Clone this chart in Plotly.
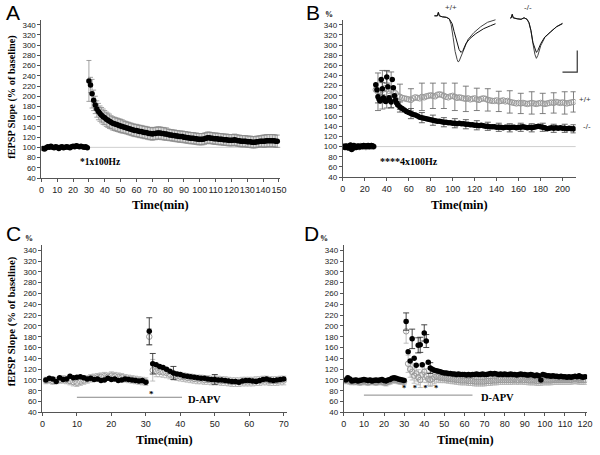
import plotly.graph_objects as go

W, H = 600, 455
def PX(x): return x / W
def PY(y): return 1 - y / H

# ---------------- DATA ----------------
BASELINE = 100
# Panel A (single group, 1x100Hz)
a_base_t = list(range(1, 30))
a_base_v = [98, 97, 99, 101, 100, 102, 100, 99, 101, 100, 98, 100, 101, 99, 100,
            101, 100, 99, 101, 102, 101, 103, 102, 101, 102, 101, 100, 101, 99]
a_post_t = list(range(30, 150))
a_post_v = [230, 222, 205, 192, 183, 175, 170, 166, 163, 160,
            158, 155, 153, 151, 149, 147, 146, 145, 144, 143,
            142, 141, 140, 139, 138, 137, 136, 135, 134, 133,
            133, 132, 131, 131, 130, 129, 129, 128, 127, 127,
            126, 127, 127, 128, 128, 128, 127, 127, 126, 126,
            125, 124, 124, 123, 123, 122, 122, 121, 121, 121,
            120, 120, 119, 119, 118, 118, 118, 117, 117, 116,
            116, 116, 116, 117, 118, 119, 119, 118, 118, 117,
            117, 117, 116, 116, 116, 115, 115, 115, 114, 114,
            114, 114, 115, 114, 113, 113, 112, 112, 112, 112,
            111, 111, 111, 110, 110, 110, 111, 111, 112, 112,
            112, 112, 113, 113, 113, 113, 113, 113, 112, 112]
a_post_e = [40, 15, 28, 20, 17, 16, 16, 15, 15, 15,
            14, 14, 14, 14, 13, 13, 13, 13, 13, 13,
            13, 13, 12, 12, 12, 12, 12, 12, 12, 12,
            12, 12, 12, 12, 12, 12, 12, 12, 12, 12,
            12, 12, 12, 12, 12, 12, 12, 12, 12, 12,
            11, 11, 11, 11, 11, 11, 11, 11, 11, 11,
            11, 11, 11, 11, 11, 11, 11, 11, 11, 11,
            11, 11, 11, 11, 11, 11, 11, 11, 11, 11,
            11, 11, 11, 11, 11, 11, 11, 11, 11, 11,
            11, 11, 11, 11, 11, 11, 11, 11, 11, 11,
            11, 11, 11, 11, 11, 11, 11, 11, 11, 11,
            12, 12, 12, 12, 12, 12, 12, 12, 12, 12]

# Panel B (4x100Hz): -/- filled, +/+ open
b_base_t = list(range(1, 29))
b_ko_base = [100, 98, 101, 99, 97, 101, 103, 94, 96, 102, 99, 98, 100, 101,
             99, 100, 101, 100, 102, 101, 100, 101, 102, 100, 101, 102, 101, 100]
b_wt_base = [101, 99, 100, 100, 98, 100, 101, 99, 100, 100, 101, 99, 100, 100,
             99, 101, 100, 100, 101, 100, 99, 100, 101, 100, 100, 101, 100, 100]
b_ko_t = list(range(30, 50)) + list(range(50, 211, 2))
b_ko_v = [222, 212, 198, 193, 190, 232, 214, 196, 192, 189,
          237, 218, 196, 191, 188, 232, 216, 200, 192, 186,
          182, 178, 175, 172, 169, 167, 165, 163, 162, 160,
          158, 157, 156, 155, 154, 153, 152, 151, 150, 150,
          149, 148, 148, 147, 147, 146, 146, 145, 146, 145,
          145, 144, 144, 143, 143, 142, 142, 141, 142, 141,
          140, 140, 139, 139, 139, 138, 138, 138, 137, 138,
          138, 137, 138, 138, 137, 138, 138, 139, 138, 137,
          138, 137, 138, 139, 140, 139, 138, 137, 135, 136,
          137, 136, 137, 136, 137, 136, 136, 135, 136, 135,
          135]
b_wt_t = list(range(30, 211, 2))
b_wt_v = [212, 208, 210, 212, 215, 213, 210, 212, 208, 205,
          200, 198, 196, 195, 194, 193, 192, 195, 197, 196,
          195, 198, 197, 199, 200, 201, 200, 199, 202, 203,
          202, 200, 198, 197, 199, 200, 198, 196, 197, 196,
          195, 194, 195, 193, 194, 195, 193, 192, 194, 195,
          194, 192, 191, 190, 190, 191, 189, 190, 191, 189,
          190, 188, 187, 186, 185, 186, 185, 186, 185, 184,
          185, 186, 185, 184, 185, 186, 185, 184, 185, 186,
          187, 186, 188, 187, 186, 187, 186, 185, 186, 187,
          188]
b_err_t = [32, 36, 40, 44, 52, 62, 72, 82, 92, 102, 112, 122, 132, 142,
           152, 162, 172, 182, 192, 202, 210]
b_wt_err = [37, 38, 37, 35, 25, 22, 27, 25, 25, 27, 25, 22, 22, 20,
            22, 20, 22, 20, 20, 22, 20]
b_ko_err = [12, 12, 12, 12, 10, 10, 10, 10, 9, 9, 9, 9, 8, 8,
            8, 8, 8, 8, 8, 8, 8]

# Panel C (D-APV, 1x100Hz)
c_t = list(range(1, 71))
c_ko_v = [100, 103, 102, 97, 104, 101, 102, 107, 104, 105,
          106, 104, 102, 103, 101, 102, 99, 100, 103, 101,
          102, 99, 100, 102, 101, 100, 99, 98, 99, 96,
          190, 130, 128, 125, 123, 120, 116, 113, 111, 110,
          108, 107, 106, 105, 104, 103, 103, 102, 101, 101,
          100, 100, 99, 98, 97, 97, 96, 98, 99, 99,
          98, 97, 99, 101, 102, 100, 99, 100, 101, 102]
c_wt_v = [99, 100, 98, 99, 100, 101, 100, 98, 96, 95,
          97, 99, 101, 103, 104, 105, 106, 107, 106, 108,
          107, 106, 105, 103, 102, 101, 100, 99, 98, 97,
          180, 118, 116, 115, 114, 113, 110, 108, 107, 106,
          105, 104, 103, 102, 101, 101, 100, 100, 99, 99,
          99, 98, 98, 97, 96, 96, 96, 97, 97, 97,
          97, 98, 98, 99, 99, 98, 98, 98, 99, 99]
c_wt_e = [6, 6, 6, 6, 6, 7, 7, 7, 7, 7,
          7, 7, 7, 7, 7, 7, 7, 7, 7, 7,
          7, 7, 7, 7, 7, 7, 7, 7, 7, 7,
          15, 20, 10, 9, 9, 9, 8, 8, 8, 8,
          8, 8, 8, 8, 8, 8, 8, 8, 8, 8,
          8, 8, 8, 8, 8, 8, 8, 8, 8, 8,
          8, 8, 8, 8, 8, 8, 8, 8, 8, 8]
c_ko_err_t = [31, 32, 38, 50]
c_ko_err = [25, 19, 12, 9]
c_apv = [10, 40.5]
c_apv_level = 68

# Panel D (D-APV, 4x100Hz)
d_t = list(range(1, 121))
d_ko_v = [100, 104, 102, 98, 99, 100, 98, 99, 100, 101,
          100, 99, 100, 98, 99, 100, 99, 100, 101, 99,
          98, 100, 101, 103, 104, 103, 102, 101, 100, 99,
          208, 152, 135, 176, 140, 127, 164, 165, 128, 187,
          172, 133, 122, 120, 118, 117, 116, 115, 114, 113,
          113, 112, 112, 111, 111, 110, 111, 110, 110, 110,
          109, 110, 109, 110, 110, 111, 110, 110, 111, 110,
          110, 111, 112, 111, 112, 111, 110, 111, 110, 111,
          110, 110, 111, 110, 110, 109, 110, 111, 110, 110,
          109, 109, 110, 109, 108, 109, 108, 100, 110, 109,
          108, 108, 107, 108, 107, 107, 106, 107, 106, 106,
          105, 106, 105, 106, 107, 106, 108, 106, 105, 106]
d_wt_v = [99, 101, 98, 97, 98, 97, 98, 96, 97, 98,
          97, 96, 97, 98, 97, 96, 97, 98, 97, 96,
          95, 97, 98, 100, 101, 100, 99, 98, 98, 97,
          190, 130, 120, 115, 108, 112, 105, 100, 110, 115,
          108, 102, 100, 102, 105, 106, 105, 104, 104, 103,
          103, 102, 102, 101, 101, 100, 100, 99, 99, 99,
          99, 98, 98, 98, 97, 97, 97, 97, 97, 97,
          98, 98, 98, 99, 99, 99, 100, 100, 100, 100,
          100, 100, 100, 100, 101, 100, 100, 101, 100, 100,
          100, 99, 99, 99, 99, 98, 98, 98, 99, 99,
          99, 99, 99, 100, 100, 100, 100, 100, 100, 100,
          100, 100, 100, 101, 101, 101, 100, 100, 100, 100]
d_wt_e = [6, 6, 6, 6, 6, 6, 6, 6, 6, 6,
          6, 6, 6, 6, 6, 6, 6, 6, 6, 6,
          6, 6, 6, 6, 6, 6, 6, 6, 6, 6,
          22, 16, 15, 15, 14, 14, 14, 14, 14, 14,
          13, 12, 12, 12, 12, 10, 9, 9, 8, 8,
          8, 8, 8, 8, 8, 8, 8, 8, 8, 8,
          8, 8, 8, 8, 8, 8, 8, 8, 8, 8,
          8, 8, 8, 8, 8, 8, 8, 8, 8, 8,
          8, 8, 8, 8, 8, 8, 8, 8, 8, 8,
          8, 8, 8, 8, 8, 8, 8, 8, 8, 8,
          8, 8, 8, 8, 8, 8, 8, 8, 8, 8,
          8, 8, 8, 8, 8, 8, 8, 8, 8, 8]
d_ko_err_t = [31, 34, 37, 38, 40, 41, 43]
d_ko_err = [16, 18, 14, 14, 15, 12, 10]
d_apv = [10, 64]
d_apv_level = 72

# Inset field-potential traces (panel B), arbitrary time / amplitude units
wt_t1 = [8, 11, 12, 13, 16, 20, 23, 25, 27, 29, 31, 32, 33, 35, 38, 42, 48, 55, 62, 70]
wt_a1 = [1, 1, 4.5, 1, 0, -0.5, -2, -8, -21, -35, -43, -45.5, -45, -40, -31, -23, -16, -10, -5.5, -3]
wt_t2 = [8, 11, 12, 13, 16, 20, 23, 26, 28, 31, 33, 35, 37, 40, 44, 50, 58, 65, 70]
wt_a2 = [1, 1, 4.5, 1, 0, -0.5, -2, -7, -15, -26, -33, -36, -34, -27, -22, -17, -12, -9, -7]
ko_t = [85, 86, 87, 88, 92, 96, 99, 102, 104, 106, 108, 110, 111.5, 113, 116, 120, 126, 132, 138]
ko_a1 = [-1.3, -1, 2.5, -1, -2, -2.5, -1, -2.5, -6, -14, -27, -38, -42, -39, -29, -21, -15, -10, -6.5]
ko_a2 = [-1.3, -1, 2.5, -1, -2, -2.5, -1, -2.5, -6, -14, -26, -33, -36, -34, -27, -20.5, -15, -10, -7]
scale_t = [153, 153, 138]
scale_a = [-34, -56, -56]

for a, b in [(a_base_t, a_base_v), (a_post_t, a_post_v), (a_post_t, a_post_e),
             (b_base_t, b_ko_base), (b_base_t, b_wt_base), (b_ko_t, b_ko_v),
             (b_wt_t, b_wt_v), (b_err_t, b_wt_err), (b_err_t, b_ko_err),
             (c_t, c_ko_v), (c_t, c_wt_v), (c_t, c_wt_e), (d_t, d_ko_v),
             (d_t, d_wt_v), (d_t, d_wt_e), (wt_t1, wt_a1), (wt_t2, wt_a2),
             (ko_t, ko_a1), (ko_t, ko_a2)]:
    assert len(a) == len(b), (len(a), len(b))

# ---------------- FIGURE ----------------
fig = go.Figure()
SANS = "Liberation Sans, Arial, sans-serif"
SERIF = "Liberation Serif, Times New Roman, serif"
AX = "#555555"
MS = 5.5

panels = {
    "A": dict(box=(39, 281.7, 19.8, 180), xmax=151, dtick=10),
    "B": dict(box=(345, 581.4, 19.9, 179), xmax=212, dtick=20),
    "C": dict(box=(40, 288.5, 247.5, 417), xmax=71, dtick=10),
    "D": dict(box=(346, 593, 247.5, 417), xmax=121, dtick=10),
}

layout_axes = {}
for i, (k, p) in enumerate(panels.items()):
    n = "" if i == 0 else str(i + 1)
    x0, x1, yt, yb = p["box"]
    layout_axes["xaxis" + n] = dict(
        domain=[PX(x0), PX(x1)], range=[0, p["xmax"]], anchor="y" + n,
        dtick=p["dtick"], tick0=0, showline=True, linecolor=AX, linewidth=1,
        ticks="outside", ticklen=3, tickcolor=AX, showgrid=False, zeroline=False,
        tickangle=0, tickfont=dict(family=SANS, size=9, color="#222"))
    layout_axes["yaxis" + n] = dict(
        domain=[PY(yb), PY(yt)], range=[40, 350], anchor="x" + n,
        dtick=20, tick0=0, showline=True, linecolor=AX, linewidth=1,
        ticks="outside", ticklen=3, tickcolor=AX, showgrid=False, zeroline=False,
        tickfont=dict(family=SANS, size=8, color="#222"))

def black(x, y, xa, ya, err=None, errcolor="#777"):
    tr = go.Scatter(x=x, y=y, mode="markers", xaxis=xa, yaxis=ya,
                    marker=dict(symbol="circle", size=MS, color="black"),
                    showlegend=False)
    if err is not None:
        tr.error_y = dict(type="data", array=err, visible=True, color=errcolor,
                          thickness=0.8, width=2.5)
    return tr

def openc(x, y, xa, ya, err=None, errcolor="#999"):
    tr = go.Scatter(x=x, y=y, mode="markers", xaxis=xa, yaxis=ya,
                    marker=dict(symbol="circle-open", size=MS, color="#9a9a9a",
                                line=dict(width=1)),
                    showlegend=False)
    if err is not None:
        tr.error_y = dict(type="data", array=err, visible=True, color=errcolor,
                          thickness=0.8, width=2.5)
    return tr

def errbars(x, y, err, xa, ya, color):
    return go.Scatter(x=x, y=y, mode="markers", xaxis=xa, yaxis=ya,
                      marker=dict(size=2, color="rgba(0,0,0,0)"),
                      error_y=dict(type="data", array=err, visible=True,
                                   color=color, thickness=0.9, width=3),
                      showlegend=False, hoverinfo="skip")

shapes = []
for xa, ya in [("x", "y"), ("x2", "y2")]:
    shapes.append(dict(type="line", xref=xa + " domain", yref=ya, x0=0, x1=1,
                       y0=BASELINE, y1=BASELINE, line=dict(color="#cfcfcf", width=1),
                       layer="below"))

# ---- Panel A
fig.add_trace(black(a_base_t, a_base_v, "x", "y"))
fig.add_trace(black(a_post_t, a_post_v, "x", "y", err=a_post_e, errcolor="#8a8a8a"))

# ---- Panel B
fig.add_trace(openc(b_base_t, b_wt_base, "x2", "y2"))
fig.add_trace(black(b_base_t, b_ko_base, "x2", "y2"))
wt_lookup = dict(zip(b_wt_t, b_wt_v))
ko_lookup = dict(zip(b_ko_t, b_ko_v))
fig.add_trace(errbars(b_err_t, [wt_lookup[t] for t in b_err_t], b_wt_err, "x2", "y2", "#707070"))
fig.add_trace(openc(b_wt_t, b_wt_v, "x2", "y2"))
fig.add_trace(errbars(b_err_t, [ko_lookup[t] for t in b_err_t], b_ko_err, "x2", "y2", "#555555"))
fig.add_trace(black(b_ko_t, b_ko_v, "x2", "y2"))

# ---- Panel C
fig.add_trace(openc(c_t, c_wt_v, "x3", "y3", err=c_wt_e, errcolor="#b0b0b0"))
c_lookup = dict(zip(c_t, c_ko_v))
fig.add_trace(errbars(c_ko_err_t, [c_lookup[t] for t in c_ko_err_t], c_ko_err, "x3", "y3", "#333"))
fig.add_trace(black(c_t, c_ko_v, "x3", "y3"))

# ---- Panel D
fig.add_trace(openc(d_t, d_wt_v, "x4", "y4", err=d_wt_e, errcolor="#b0b0b0"))
d_lookup = dict(zip(d_t, d_ko_v))
fig.add_trace(errbars(d_ko_err_t, [d_lookup[t] for t in d_ko_err_t], d_ko_err, "x4", "y4", "#333"))
fig.add_trace(black(d_t, d_ko_v, "x4", "y4"))

# D-APV bars
shapes.append(dict(type="line", xref="x3", yref="y3", x0=c_apv[0], x1=c_apv[1],
                   y0=c_apv_level, y1=c_apv_level, line=dict(color="#888", width=1)))
shapes.append(dict(type="line", xref="x4", yref="y4", x0=d_apv[0], x1=d_apv[1],
                   y0=d_apv_level, y1=d_apv_level, line=dict(color="#888", width=1)))

# ---- Inset traces (panel B)
layout_axes["xaxis5"] = dict(domain=[PX(430), PX(590)], range=[0, 160], anchor="y5",
                             visible=False, fixedrange=True)
layout_axes["yaxis5"] = dict(domain=[PY(80), PY(5)], range=[-63, 12], anchor="x5",
                             visible=False, fixedrange=True)
for tt, aa, col in [(wt_t1, wt_a1, "#444"), (wt_t2, wt_a2, "#111"),
                    (ko_t, ko_a1, "#444"), (ko_t, ko_a2, "#111")]:
    fig.add_trace(go.Scatter(x=tt, y=aa, mode="lines", xaxis="x5", yaxis="y5",
                             line=dict(color=col, width=1), showlegend=False,
                             hoverinfo="skip"))
fig.add_trace(go.Scatter(x=scale_t, y=scale_a, mode="lines", xaxis="x5", yaxis="y5",
                         line=dict(color="#333", width=1.2), showlegend=False,
                         hoverinfo="skip"))

# ---------------- ANNOTATIONS ----------------
ann = []
def txt(x, y, s, size, family=SANS, color="#000", xanchor="center", yanchor="middle", angle=0):
    ann.append(dict(x=PX(x), y=PY(y), xref="paper", yref="paper", text=s,
                    showarrow=False, xanchor=xanchor, yanchor=yanchor, textangle=angle,
                    font=dict(family=family, size=size, color=color)))

txt(1, 12.5, "A", 21, xanchor="left")
txt(306, 12.5, "B", 21, xanchor="left")
txt(1, 236, "C", 21, xanchor="left")
txt(304, 236, "D", 21, xanchor="left")
txt(331, 15, "<b>%</b>", 8, family=SERIF)
txt(26, 241, "<b>%</b>", 8, family=SERIF)
txt(326, 241, "<b>%</b>", 8, family=SERIF)
txt(160, 207, "<b>Time(min)</b>", 12.5, family=SERIF)
txt(463, 207, "<b>Time(min)</b>", 12.5, family=SERIF)
txt(164, 445, "<b>Time(min)</b>", 12.5, family=SERIF)
txt(470, 445, "<b>Time(min)</b>", 12.5, family=SERIF)
txt(9, 98, "<b>fEPSP Slope (% of baseline)</b>", 10.3, family=SERIF, angle=-90)
txt(9, 325, "<b>fEPSP Slope (% of baseline)</b>", 10.8, family=SERIF, angle=-90)
txt(98.5, 163.5, "<b>*1x100Hz</b>", 9.5, family=SERIF)
txt(412, 163.5, "<b>****4x100Hz</b>", 10, family=SERIF)
txt(151, 398.5, "<b>*</b>", 9, family=SERIF)
txt(423, 392, "<b>*   *   *   *</b>", 8.5, family=SERIF)
txt(205, 404, "<b>D-APV</b>", 10.5, family=SERIF)
txt(502, 402, "<b>D-APV</b>", 10.5, family=SERIF)
txt(599, 101, "+/+", 8, color="#333", xanchor="right")
txt(599, 128, "-/-", 8, color="#333", xanchor="right")
txt(455, 8, "+/+", 8, color="#333")
txt(533, 8, "-/-", 8, color="#333")

fig.update_layout(
    width=W, height=H, margin=dict(l=0, r=0, t=0, b=0),
    paper_bgcolor="white", plot_bgcolor="white",
    shapes=shapes, annotations=ann, showlegend=False, **layout_axes)

fig.write_html("out.html", config={"displayModeBar": False},
               post_script="document.body.style.margin='0';document.body.style.overflow='hidden';")
